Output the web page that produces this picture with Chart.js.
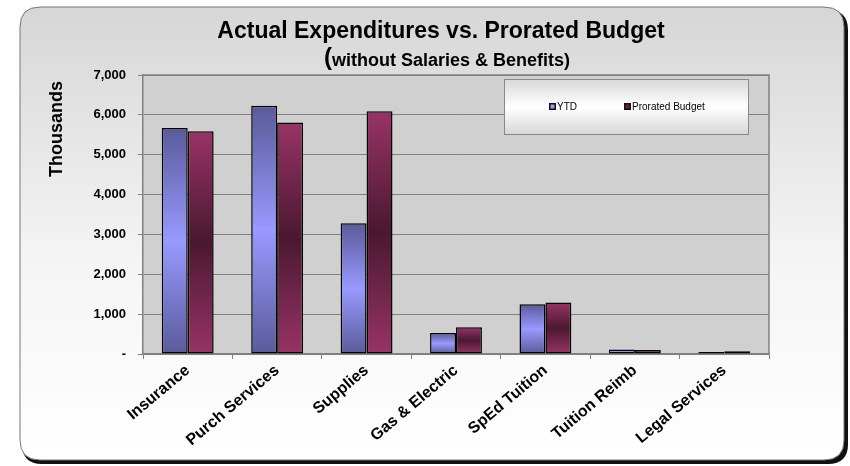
<!DOCTYPE html>
<html>
<head>
<meta charset="utf-8">
<script src="https://cdn.jsdelivr.net/npm/chart.js@4.4.1/dist/chart.umd.min.js"></script>
<style>
  html, body { margin: 0; padding: 0; background: #fff; }
  #wrap { width: 850px; height: 466px; position: relative; }
</style>
</head>
<body>
<div id="wrap"><canvas id="expChart" width="850" height="466"></canvas></div>
<script>
// chart data (thousands)
const categories = ['Insurance', 'Purch Services', 'Supplies', 'Gas & Electric', 'SpEd Tuition', 'Tuition Reimb', 'Legal Services'];
const ytdValues = [5670, 6230, 3280, 530, 1250, 110, 50];
const budgetValues = [5590, 5810, 6090, 670, 1290, 100, 70];
const yTicks = [0, 1000, 2000, 3000, 4000, 5000, 6000, 7000];

const FONT = 'Arial, "Liberation Sans", sans-serif';

// vertical gradient: dark at the ends, light/dark band in the middle
function barGradient(ctx, ends, mid) {
    const chart = ctx.chart;
    if (!chart.chartArea || ctx.raw == null) return ends;
    const y = chart.scales.y;
    const top = y.getPixelForValue(ctx.raw);
    const base = y.getPixelForValue(0);
    if (base - top < 2) return ends;
    const g = chart.ctx.createLinearGradient(0, top, 0, base);
    g.addColorStop(0, ends);
    g.addColorStop(0.5, mid);
    g.addColorStop(1, ends);
    return g;
}

function roundRect(c, x, y, w, h, r) {
    c.beginPath();
    c.moveTo(x + r, y);
    c.lineTo(x + w - r, y);
    c.quadraticCurveTo(x + w, y, x + w, y + r);
    c.lineTo(x + w, y + h - r);
    c.quadraticCurveTo(x + w, y + h, x + w - r, y + h);
    c.lineTo(x + r, y + h);
    c.quadraticCurveTo(x, y + h, x, y + h - r);
    c.lineTo(x, y + r);
    c.quadraticCurveTo(x, y, x + r, y);
    c.closePath();
}

// frame, plot background, titles and legend
const decor = {
    id: 'decor',
    beforeDraw(chart) {
        const c = chart.ctx;
        const a = chart.chartArea;
        c.save();
        // shadow
        c.fillStyle = '#111';
        roundRect(c, 22, 10, 826, 454, 20);
        c.fill();
        // frame
        const bg = c.createLinearGradient(0, 7, 0, 461);
        bg.addColorStop(0, '#d6d6d6');
        bg.addColorStop(0.55, '#f4f4f4');
        bg.addColorStop(1, '#ffffff');
        c.fillStyle = bg;
        roundRect(c, 20, 7, 824, 453, 20);
        c.fill();
        c.strokeStyle = '#777';
        c.lineWidth = 1;
        c.stroke();
        // plot area
        c.fillStyle = '#d0d0d0';
        c.fillRect(a.left, a.top, a.right - a.left, a.bottom - a.top);
        c.restore();
    },
    afterDatasetsDraw(chart) {
        const c = chart.ctx;
        const a = chart.chartArea;
        c.save();
        c.strokeStyle = '#808080';
        c.lineWidth = 1.5;
        c.beginPath();
        c.moveTo(a.left, a.top);
        c.lineTo(a.right, a.top);
        c.lineTo(a.right, a.bottom);
        c.stroke();

        // legend box
        const lx = 504, ly = 79, lw = 244, lh = 55;
        const lg = c.createLinearGradient(0, ly, 0, ly + lh);
        lg.addColorStop(0, '#d8d8d8');
        lg.addColorStop(0.5, '#ffffff');
        lg.addColorStop(1, '#d8d8d8');
        c.fillStyle = lg;
        c.fillRect(lx, ly, lw, lh);
        c.strokeStyle = '#888';
        c.lineWidth = 1;
        c.strokeRect(lx + 0.5, ly + 0.5, lw, lh);
        const items = [
            { text: 'YTD', fill: '#9999ff', x: 549 },
            { text: 'Prorated Budget', fill: '#6a1f40', x: 624 }
        ];
        c.font = '10px ' + FONT;
        c.textBaseline = 'middle';
        items.forEach(it => {
            c.fillStyle = '#111';
            c.fillRect(it.x, 103, 7, 7);
            c.fillStyle = it.fill;
            c.fillRect(it.x + 1.5, 104.5, 4, 4);
            c.fillStyle = '#000';
            c.fillText(it.text, it.x + 8, 107);
        });

        // titles
        c.fillStyle = '#000';
        c.textAlign = 'center';
        c.textBaseline = 'middle';
        c.font = 'bold 23px ' + FONT;
        c.fillText('Actual Expenditures vs. Prorated Budget', 441, 32);
        c.font = 'bold 18px ' + FONT;
        const sub = 'without Salaries & Benefits)';
        const subW = c.measureText(sub).width;
        c.font = 'bold 24px ' + FONT;
        const parW = c.measureText('(').width;
        const sx = 447 - (subW + parW) / 2;
        c.textAlign = 'left';
        c.fillText('(', sx, 58);
        c.font = 'bold 18px ' + FONT;
        c.fillText(sub, sx + parW, 61);

        // axis title
        c.translate(57, 129);
        c.rotate(-Math.PI / 2);
        c.textAlign = 'center';
        c.font = 'bold 18px ' + FONT;
        c.fillText('Thousands', 0, 0);
        c.restore();
    }
};

const ctx = document.getElementById('expChart').getContext('2d');
const expChart = new Chart(ctx, {
    type: 'bar',
    data: {
        labels: categories,
        datasets: [{
            label: 'YTD',
            data: ytdValues,
            backgroundColor: c => barGradient(c, '#5a5a9a', '#9999ff'),
            borderColor: '#000',
            borderWidth: 1.5,
            borderSkipped: false,
            categoryPercentage: 0.58,
            barPercentage: 1.0
        }, {
            label: 'Prorated Budget',
            data: budgetValues,
            backgroundColor: c => barGradient(c, '#993366', '#4a1830'),
            borderColor: '#000',
            borderWidth: 1.5,
            borderSkipped: false,
            categoryPercentage: 0.58,
            barPercentage: 1.0
        }]
    },
    options: {
        responsive: false,
        animation: false,
        layout: { padding: { left: 20, top: 75, right: 81, bottom: 0 } },
        plugins: {
            legend: { display: false },
            tooltip: { enabled: false },
            title: { display: false }
        },
        scales: {
            x: {
                grid: { offset: true, drawOnChartArea: false, tickLength: 5, color: '#808080' },
                border: { color: '#808080', width: 1.5 },
                ticks: {
                    color: '#000',
                    font: { family: FONT, size: 16, weight: 'bold' },
                    maxRotation: 40,
                    minRotation: 40,
                    padding: 2
                },
                afterFit: s => { s.height = 112; }
            },
            y: {
                min: 0,
                max: 7000,
                afterBuildTicks: s => { s.ticks = yTicks.map(v => ({ value: v })); },
                grid: { color: '#808080', tickLength: 5 },
                border: { color: '#808080', width: 1.5 },
                ticks: {
                    color: '#000',
                    font: { family: FONT, size: 13, weight: 'bold' },
                    padding: 12,
                    callback: v => v === 0 ? '-' : v.toLocaleString('en-US')
                },
                afterFit: s => { s.width = 123; }
            }
        }
    },
    plugins: [decor]
});
</script>
</body>
</html>
